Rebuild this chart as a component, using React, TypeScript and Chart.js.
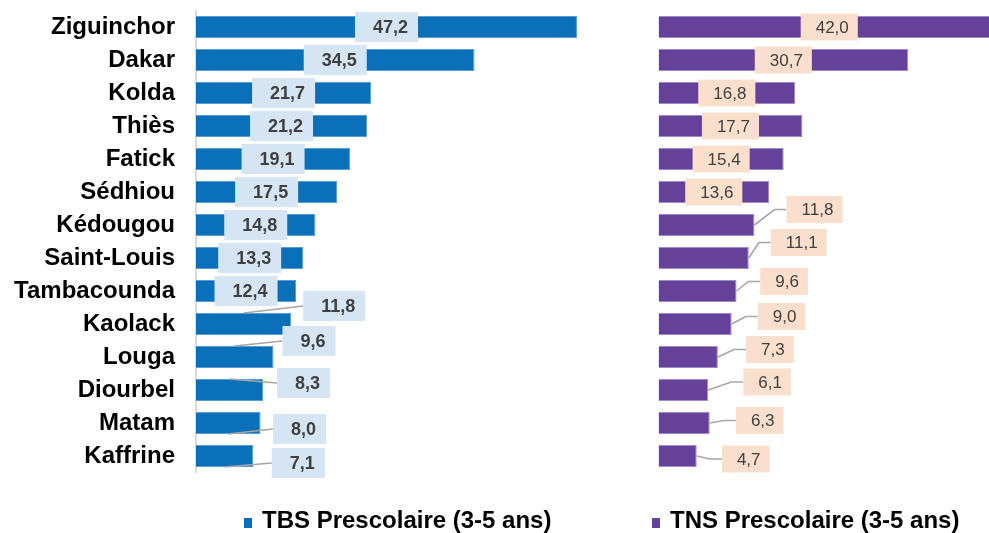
import React, { useEffect, useRef } from 'react';
import { Chart, registerables } from 'chart.js';

Chart.register(...registerables);

// ---- data ----
const categories = [
  'Ziguinchor', 'Dakar', 'Kolda', 'Thiès', 'Fatick', 'Sédhiou', 'Kédougou',
  'Saint-Louis', 'Tambacounda', 'Kaolack', 'Louga', 'Diourbel', 'Matam', 'Kaffrine',
];
const tbsValues = [47.2, 34.5, 21.7, 21.2, 19.1, 17.5, 14.8, 13.3, 12.4, 11.8, 9.6, 8.3, 8.0, 7.1];
const tnsValues = [42.0, 30.7, 16.8, 17.7, 15.4, 13.6, 11.8, 11.1, 9.6, 9.0, 7.3, 6.1, 6.3, 4.7];
const tbsLabel = 'TBS Prescolaire (3-5 ans)';
const tnsLabel = 'TNS Prescolaire (3-5 ans)';

// ---- label placement (null = centred in bar; [dx, dy] = box centre offset from bar end) ----
type Off = [number, number] | null;
const tbsLabelOffsets: Off[] = [
  null, null, null, null, null, null, null, null, null,
  [43, -18], [35.5, -16], [40.5, -7], [39, 6], [45, 7],
];
const tnsLabelOffsets: Off[] = [
  null, null, null, null, null, null,
  [60, -15.5], [50, -15.5], [47.5, -9.5], [50, -7.5], [52, -7.5], [59, -8], [50, -2.5], [49, 3],
];

const FONT = '"Liberation Sans", Arial, Helvetica, sans-serif';
const fmt = (v: number) => v.toFixed(1).replace('.', ',');

interface LabelCfg {
  offsets: Off[];
  font: string;
  padX: number;
  boxH: number;
  boxColor: string;
  textShift: number;
  leader: 'mid' | 'elbow';
  legendColor: string;
  legendText: string;
  legendX: number;
}

function makePlugin(cfg: LabelCfg) {
  return {
    id: 'boxLabels',
    afterDatasetsDraw(chart: any) {
      const ctx = chart.ctx as CanvasRenderingContext2D;
      const meta = chart.getDatasetMeta(0);
      const values = chart.data.datasets[0].data as number[];
      ctx.save();
      ctx.font = cfg.font;
      meta.data.forEach((bar: any, i: number) => {
        const p = bar.getProps(['x', 'y', 'base', 'height'], true);
        const text = fmt(values[i]);
        const tw = ctx.measureText(text).width;
        const bw = tw + 2 * cfg.padX;
        const bh = cfg.boxH;
        const off = cfg.offsets[i];
        let cx: number;
        let cy: number;
        if (!off) {
          cx = (p.x + p.base) / 2;
          cy = p.y;
        } else {
          cx = p.x + off[0];
          cy = p.y + off[1];
          const left = cx - bw / 2;
          ctx.strokeStyle = '#A6A6A6';
          ctx.lineWidth = 1.6;
          ctx.beginPath();
          if (cfg.leader === 'mid') {
            const sx = (p.x + p.base) / 2;
            const sy = off[1] < 0 ? p.y - p.height / 2 : p.y + p.height / 2;
            ctx.moveTo(sx, sy);
            ctx.lineTo(left, cy);
          } else {
            ctx.moveTo(p.x, p.y);
            ctx.lineTo(left - 12, cy);
            ctx.lineTo(left, cy);
          }
          ctx.stroke();
        }
        ctx.fillStyle = cfg.boxColor;
        ctx.fillRect(cx - bw / 2, cy - bh / 2, bw, bh);
        ctx.fillStyle = '#404040';
        ctx.textAlign = 'center';
        ctx.textBaseline = 'middle';
        ctx.fillText(text, cx + cfg.textShift, cy + 1);
      });
      ctx.restore();
    },
    afterDraw(chart: any) {
      const ctx = chart.ctx as CanvasRenderingContext2D;
      ctx.save();
      ctx.fillStyle = cfg.legendColor;
      ctx.fillRect(cfg.legendX, 518, 8, 10);
      ctx.fillStyle = '#000000';
      ctx.font = `bold 24px ${FONT}`;
      ctx.textAlign = 'left';
      ctx.textBaseline = 'alphabetic';
      ctx.fillText(cfg.legendText, cfg.legendX + 18, 528);
      ctx.restore();
    },
  };
}

export default function App() {
  const leftRef = useRef<HTMLCanvasElement>(null);
  const rightRef = useRef<HTMLCanvasElement>(null);

  useEffect(() => {
    const left = new Chart(leftRef.current as HTMLCanvasElement, {
      type: 'bar',
      data: {
        labels: categories,
        datasets: [{
          label: tbsLabel,
          data: tbsValues,
          backgroundColor: '#0B70BA',
          borderColor: '#5A9BD5',
          borderWidth: 1,
          barPercentage: 0.667,
          categoryPercentage: 1,
        }],
      },
      options: {
        indexAxis: 'y',
        responsive: false,
        animation: false,
        layout: { padding: { top: 10.5, bottom: 60.5, left: 0, right: 0 } },
        plugins: { legend: { display: false }, tooltip: { enabled: false } },
        scales: {
          x: { display: false, min: 0, max: 52.53 },
          y: {
            afterFit: (s: any) => {
              s.width = 196;
              s.paddingTop = 0;
              s.paddingBottom = 0;
            },
            grid: { display: false, drawTicks: false },
            border: { display: true, color: '#D9D9D9', width: 2 },
            ticks: { padding: 21, color: '#000000', font: { family: FONT, size: 24, weight: 'bold' } },
          },
        },
      } as any,
      plugins: [makePlugin({
        offsets: tbsLabelOffsets,
        font: `bold 18px ${FONT}`,
        padX: 14,
        boxH: 30,
        boxColor: '#D5E5F4',
        textShift: 4,
        leader: 'mid',
        legendColor: '#0B70BA',
        legendText: tbsLabel,
        legendX: 244,
      })],
    });

    const right = new Chart(rightRef.current as HTMLCanvasElement, {
      type: 'bar',
      data: {
        labels: categories,
        datasets: [{
          label: tnsLabel,
          data: tnsValues,
          backgroundColor: '#65419A',
          borderColor: '#A089C8',
          borderWidth: 1,
          barPercentage: 0.667,
          categoryPercentage: 1,
        }],
      },
      options: {
        indexAxis: 'y',
        responsive: false,
        animation: false,
        layout: { padding: { top: 10.5, bottom: 60.5, left: 38.5, right: 0 } },
        plugins: { legend: { display: false }, tooltip: { enabled: false } },
        scales: {
          x: { display: false, min: 0, max: 40.65 },
          y: { display: false },
        },
      } as any,
      plugins: [makePlugin({
        offsets: tnsLabelOffsets,
        font: `17px ${FONT}`,
        padX: 12,
        boxH: 27,
        boxColor: '#FBDFCD',
        textShift: 3,
        leader: 'elbow',
        legendColor: '#65419A',
        legendText: tnsLabel,
        legendX: 32,
      })],
    });

    return () => {
      left.destroy();
      right.destroy();
    };
  }, []);

  return (
    <div style={{ position: 'absolute', left: 0, top: 0, width: 989, height: 533, background: '#fff', overflow: 'hidden' }}>
      <canvas ref={leftRef} width={620} height={533} style={{ position: 'absolute', left: 0, top: 0, display: 'block' }} />
      <canvas ref={rightRef} width={369} height={533} style={{ position: 'absolute', left: 620, top: 0, display: 'block' }} />
    </div>
  );
}
